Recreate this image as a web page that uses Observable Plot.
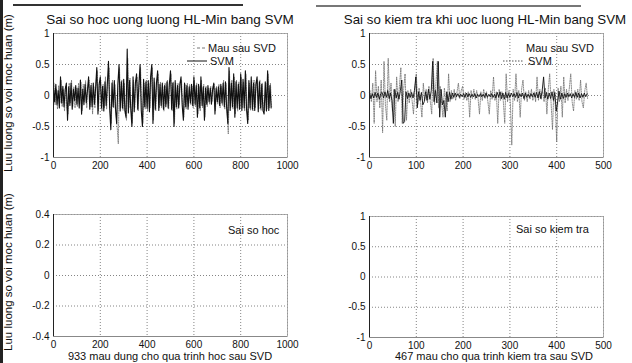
<!DOCTYPE html>
<html><head><meta charset="utf-8">
<script src="https://cdn.jsdelivr.net/npm/d3@7"></script>
<script src="https://cdn.jsdelivr.net/npm/@observablehq/plot@0.6"></script>
<style>
body{margin:0;background:#fff;}
#fig{position:relative;width:632px;height:363px;overflow:hidden;font-family:"Liberation Sans",Arial,sans-serif;color:#111;background:#fff;}
.panel{position:absolute;}
.t{position:absolute;white-space:nowrap;line-height:1;}
.c{transform:translate(-50%,-50%);}
.r{transform:translate(-50%,-50%) rotate(-90deg);}
</style></head><body><div id="fig"></div>
<script>
// ---- data ----
const titles = ["Sai so hoc uong luong HL-Min bang SVM", "Sai so kiem tra khi uoc luong HL-Min bang SVM"];
const yLabel = "Luu luong so voi moc huan (m)";
const xLabels = ["933 mau dung cho qua trinh hoc sau SVD", "467 mau cho qua trinh kiem tra sau SVD"];
const seriesNames = ["Mau sau SVD", "SVM"];
const errorNames = ["Sai so hoc", "Sai so kiem tra"];
const trainTicksX = [0, 200, 400, 600, 800, 1000];
const testTicksX = [0, 100, 200, 300, 400, 500];
const ticksY1 = [-1, -0.5, 0, 0.5, 1];
const ticksY04 = [-0.4, -0.2, 0, 0.2, 0.4];
const trainStep = 5, testStep = 3;   // samples between successive read values

// training, SVM (solid)
const trainSvm = [
0.12,-0.10,0.18,-0.15,0.08,-0.20,0.30,-0.12,0.15,-0.18,
0.10,0.20,-0.40,0.14,-0.16,0.20,-0.22,0.10,-0.08,0.16,
-0.14,0.12,-0.20,0.25,-0.30,0.10,-0.15,0.18,-0.12,0.08,
0.30,-0.22,0.16,-0.18,0.20,-0.14,0.12,0.45,-0.30,0.18,
0.30,-0.20,0.15,-0.25,0.22,-0.16,0.18,0.55,-0.20,-0.55,
0.20,-0.18,0.24,-0.22,-0.45,0.18,0.50,-0.25,0.22,-0.20,
0.26,-0.24,-0.35,0.75,-0.28,0.24,-0.20,-0.50,0.30,-0.26,
0.20,0.35,-0.22,0.18,0.50,-0.24,-0.50,0.26,-0.18,0.22,
-0.20,0.24,-0.26,0.30,0.50,-0.45,0.28,-0.22,0.20,0.40,
-0.24,0.18,-0.16,0.20,-0.22,0.16,-0.18,0.22,-0.20,0.18,
0.40,-0.22,0.20,-0.50,0.24,-0.18,0.16,-0.20,0.18,0.30,
-0.16,-0.40,0.20,-0.18,0.16,-0.22,0.14,-0.12,0.18,-0.16,
0.30,-0.14,0.16,-0.35,0.18,-0.20,0.30,-0.16,0.14,-0.40,
0.12,-0.14,0.16,-0.10,0.12,-0.14,0.10,0.20,-0.30,0.12,
-0.10,0.14,-0.16,0.18,-0.12,0.20,-0.18,0.22,-0.20,-0.45,
0.45,-0.24,0.20,-0.18,0.35,-0.35,0.22,-0.20,0.18,-0.22,
0.35,-0.24,0.26,-0.20,0.40,-0.22,-0.45,0.24,-0.20,0.30,
-0.22,0.20,-0.24,0.18,0.30,-0.26,0.22,-0.20,0.18,-0.24,
-0.30,0.22,-0.25,0.40,-0.24,0.16,-0.20];

// training, Mau sau SVD (dotted)
const trainSvd = [
0.20,-0.15,0.10,-0.22,0.16,-0.12,0.25,-0.18,0.10,-0.25,
0.15,-0.20,-0.30,0.20,-0.12,0.25,-0.18,0.14,-0.20,0.12,
-0.18,0.20,-0.14,0.22,-0.25,0.18,-0.10,0.24,-0.20,0.15,
0.25,-0.18,0.20,-0.30,0.15,-0.20,0.22,0.40,-0.25,0.20,
0.25,-0.25,0.18,-0.20,0.30,-0.22,0.15,0.45,-0.25,-0.45,
0.25,-0.20,0.18,-0.28,-0.50,-0.78,0.45,-0.20,0.25,-0.24,
0.20,-0.30,-0.40,0.60,-0.20,0.28,-0.25,-0.45,0.25,-0.20,
0.25,0.30,-0.25,0.22,0.45,-0.20,-0.45,0.20,-0.22,0.25,
-0.25,0.20,-0.20,0.25,0.45,-0.40,0.22,-0.25,0.24,0.35,
-0.20,0.22,-0.20,0.15,-0.25,0.20,-0.14,0.25,-0.22,0.15,
0.35,-0.25,0.22,-0.45,0.20,-0.22,0.20,-0.15,0.22,0.25,
-0.20,-0.35,0.18,-0.22,0.20,-0.18,0.18,-0.15,0.15,-0.20,
0.25,-0.18,0.20,-0.30,0.15,-0.25,0.25,-0.20,0.18,-0.35,
0.15,-0.18,0.12,-0.14,0.15,-0.10,0.14,0.18,-0.25,0.15,
-0.14,0.18,-0.20,0.15,-0.16,0.25,-0.22,0.20,-0.25,-0.62,
0.40,-0.20,0.25,-0.22,0.30,-0.30,0.25,-0.25,0.22,-0.20,
0.30,-0.20,0.22,-0.25,0.35,-0.25,-0.40,0.20,-0.24,0.25,
-0.25,0.25,-0.20,0.22,0.25,-0.22,0.25,-0.24,0.20,-0.20,
-0.25,0.20,-0.22,0.35,-0.20,0.20,-0.18];

// test, Mau sau SVD (solid, near zero)
const testSvd = [
0.04,-0.05,0.03,-0.04,0.05,-0.03,0.04,-0.06,0.03,0.05,
-0.04,0.06,-0.03,0.08,-0.05,0.04,-0.08,-0.45,0.10,-0.04,
0.05,-0.06,0.08,0.25,-0.45,-0.42,0.06,-0.05,0.04,-0.03,
0.05,-0.04,0.08,0.30,-0.20,0.06,-0.08,0.05,-0.15,-0.10,
0.06,-0.08,0.10,-0.06,0.08,0.55,-0.10,0.08,-0.12,0.55,
-0.35,0.10,-0.15,-0.08,-0.35,0.06,-0.10,0.05,-0.06,0.04,
-0.03,0.04,-0.02,0.03,-0.03,0.02,-0.02,0.03,-0.03,0.04,
-0.02,0.03,-0.03,0.02,-0.02,0.03,-0.04,0.02,-0.02,0.03,
-0.02,0.02,-0.03,0.04,-0.03,0.02,-0.02,0.03,-0.03,0.02,
-0.04,0.05,-0.03,0.06,-0.05,0.04,-0.06,0.05,-0.04,0.03,
-0.03,0.04,-0.02,0.03,-0.03,0.05,-0.04,0.03,-0.02,0.04,
-0.05,0.04,-0.03,0.02,-0.03,0.03,-0.02,0.04,-0.03,0.05,
-0.04,0.06,-0.05,0.08,0.30,-0.04,0.05,-0.06,0.04,-0.05,
0.06,-0.08,0.05,-0.25,-0.10,0.07,-0.06,0.04,-0.05,0.03,
-0.03,0.04,-0.02,0.03,-0.04,0.03,-0.03,0.05,-0.03,0.04,
-0.04,0.03,-0.03,0.04,-0.02,0.03];

// test, SVM (dotted, spiky)
const testSvm = [
0.08,-0.10,0.20,-0.45,0.40,-0.10,0.15,-0.20,0.25,-0.60,
0.55,-0.15,-0.40,0.60,-0.10,0.20,-0.25,0.10,-0.50,0.30,
-0.10,0.15,0.45,-0.45,0.10,0.35,-0.40,0.08,-0.12,0.10,
-0.08,-0.30,0.10,0.35,-0.15,0.12,-0.10,-0.35,0.20,-0.08,
0.10,-0.12,0.15,-0.10,-0.30,0.60,-0.15,0.20,0.55,-0.20,
0.15,-0.12,-0.35,0.12,-0.08,-0.25,0.35,-0.10,0.08,-0.06,
0.10,-0.08,0.06,0.20,-0.05,0.08,0.15,-0.06,0.05,-0.08,
0.06,-0.35,0.08,-0.05,0.10,-0.06,0.08,-0.05,-0.30,0.06,
-0.08,0.10,-0.05,0.06,-0.10,-0.30,0.08,-0.06,0.30,-0.08,
0.06,-0.45,0.10,-0.08,0.06,-0.10,-0.45,0.35,-0.10,0.08,
-0.12,-0.80,0.10,-0.08,0.35,-0.10,0.08,-0.35,0.10,0.25,
-0.08,0.06,-0.10,0.08,-0.06,0.10,-0.08,0.06,-0.10,0.30,
-0.08,0.10,-0.06,0.08,-0.10,0.12,-0.30,0.10,0.35,-0.12,
-0.55,0.10,-0.15,-0.75,0.12,-0.10,0.15,-0.35,0.30,-0.12,
0.10,-0.08,0.12,0.35,-0.10,-0.25,0.08,-0.06,0.10,-0.08,
0.25,-0.10,-0.20,0.08,0.20,-0.05];

// error series (nothing visible in the picture)
const trainError = [];
const testError = [];

// ---- build ----
const rows = (vals, step, offset) => vals.map((v, i) => ({sample: offset + i * step, value: v}));
const fig = document.getElementById("fig");
const FONT = '"Liberation Sans", Arial, sans-serif';
const fmt = d => String(d);

function panel({left, top, mt, mb, xDomain, xTicks, yDomain, yTicks, marks}) {
  const svg = Plot.plot({
    width: 316, height: 180,
    marginLeft: 53, marginRight: 29, marginTop: mt, marginBottom: mb,
    style: {fontFamily: FONT, fontSize: "10px", color: "#111", background: "transparent", overflow: "visible"},
    x: {domain: xDomain, ticks: xTicks, tickFormat: fmt, tickSize: 0, tickPadding: 4, label: null},
    y: {domain: yDomain, ticks: yTicks, tickFormat: fmt, tickSize: 0, tickPadding: 4, label: null},
    marks: [
      Plot.ruleX(xTicks, {stroke: "#666", strokeWidth: 0.8, strokeDasharray: "1,2"}),
      Plot.ruleY(yTicks, {stroke: "#666", strokeWidth: 0.8, strokeDasharray: "1,2"}),
      ...marks,
      Plot.frame({stroke: "#999", strokeWidth: 0.8}),
      Plot.ruleX([xDomain[0]], {stroke: "#222", strokeWidth: 1}),
      Plot.ruleY([yDomain[0]], {stroke: "#888", strokeWidth: 1})
    ]
  });
  svg.classList.add("panel");
  svg.style.left = left + "px";
  svg.style.top = top + "px";
  fig.appendChild(svg);
}

const dotted = {x: "sample", y: "value", stroke: "#707070", strokeWidth: 0.8, strokeDasharray: "1.2,1.2"};
const solid = {x: "sample", y: "value", stroke: "#111", strokeWidth: 1.1};
const solidThin = {x: "sample", y: "value", stroke: "#111", strokeWidth: 0.9};

panel({left: 0, top: 0, mt: 33, mb: 23, xDomain: [0, 1000], xTicks: trainTicksX, yDomain: [-1, 1], yTicks: ticksY1,
  marks: [Plot.line(rows(trainSvd, trainStep, 2), dotted), Plot.line(rows(trainSvm, trainStep, 0), solid)]});
panel({left: 316, top: 0, mt: 33, mb: 23, xDomain: [0, 500], xTicks: testTicksX, yDomain: [-1, 1], yTicks: ticksY1,
  marks: [Plot.line(rows(testSvm, testStep, 1), dotted), Plot.line(rows(testSvd, testStep, 0), solidThin)]});
panel({left: 0, top: 180, mt: 34, mb: 24, xDomain: [0, 1000], xTicks: trainTicksX, yDomain: [-0.4, 0.4], yTicks: ticksY04,
  marks: [Plot.line(rows(trainError, trainStep, 0), solid)]});
panel({left: 316, top: 180, mt: 36, mb: 23, xDomain: [0, 500], xTicks: testTicksX, yDomain: [-1, 1], yTicks: ticksY1,
  marks: [Plot.line(rows(testError, testStep, 0), solid)]});

// ---- text & legends ----
function text(str, x, y, size, cls, extra) {
  const d = document.createElement("div");
  d.className = "t " + (cls || "");
  d.textContent = str;
  d.style.left = x + "px"; d.style.top = y + "px"; d.style.fontSize = size + "px";
  if (extra) Object.assign(d.style, extra);
  fig.appendChild(d);
  return d;
}
function swatch(x1, x2, y, color, dash, w) {
  const s = document.createElementNS("http://www.w3.org/2000/svg", "svg");
  s.setAttribute("width", x2 - x1); s.setAttribute("height", 4);
  s.style.position = "absolute"; s.style.left = x1 + "px"; s.style.top = (y - 2) + "px";
  const l = document.createElementNS("http://www.w3.org/2000/svg", "line");
  l.setAttribute("x1", 0); l.setAttribute("x2", x2 - x1); l.setAttribute("y1", 2); l.setAttribute("y2", 2);
  l.setAttribute("stroke", color); l.setAttribute("stroke-width", w || 1);
  if (dash) l.setAttribute("stroke-dasharray", dash);
  s.appendChild(l); fig.appendChild(s);
}

text(titles[0], 170, 20, 13.5, "c");
text(titles[1], 485, 20, 13.3, "c");
text(yLabel, 8.5, 93, 11.5, "r");
text(yLabel, 8.5, 272, 11.5, "r");
text(xLabels[0], 170, 356, 11, "c");
text(xLabels[1], 494, 356, 11, "c");

// legends
text(seriesNames[0], 208, 48, 11, "", {transform: "translateY(-50%)"});
text(seriesNames[1], 210, 61, 11, "", {transform: "translateY(-50%)"});
swatch(197, 205, 48, "#777", "3,2", 1);
swatch(187, 207, 61, "#111", null, 1);
text(seriesNames[0], 526, 48, 11, "", {transform: "translateY(-50%)"});
text(seriesNames[1], 528, 61, 11, "", {transform: "translateY(-50%)"});
swatch(503, 524, 61, "#555", "1.5,1.5", 1);
text(errorNames[0], 228, 230, 11, "", {transform: "translateY(-50%)"});
text(errorNames[1], 516, 229, 11, "", {transform: "translateY(-50%)"});

// scan border
const b = document.createElement("div");
Object.assign(b.style, {position: "absolute", left: "0px", top: "0px", width: "3px", height: "363px", background: "#222"});
fig.appendChild(b);
const tb = document.createElement("div");
Object.assign(tb.style, {position: "absolute", left: "13px", top: "4px", width: "230px", height: "1.5px", background: "#333"});
fig.appendChild(tb);
const tb2 = document.createElement("div");
Object.assign(tb2.style, {position: "absolute", left: "316px", top: "5px", width: "265px", height: "1.5px", background: "#777"});
fig.appendChild(tb2);
</script></body></html>
